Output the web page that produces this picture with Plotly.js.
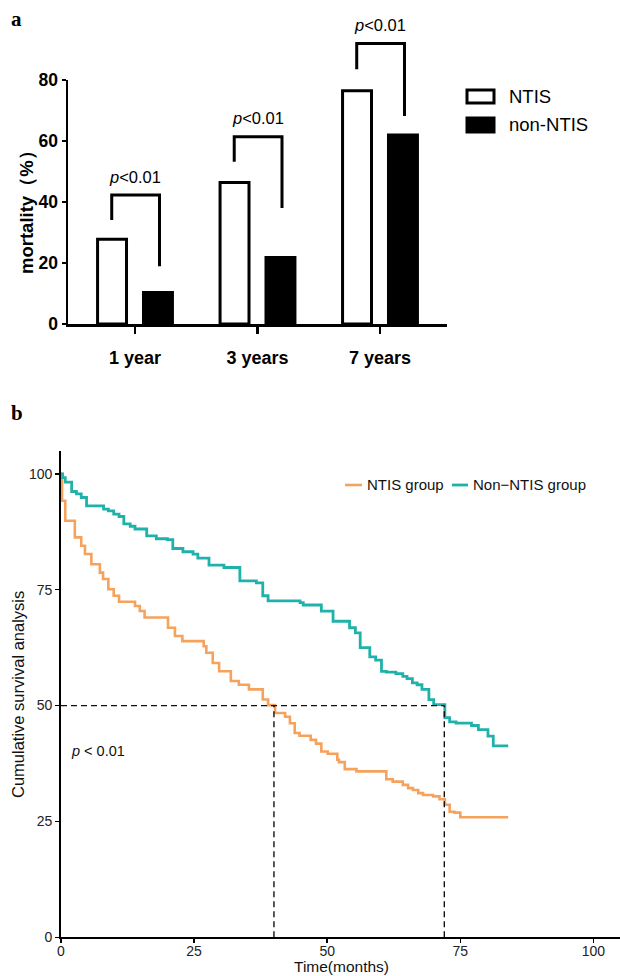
<!DOCTYPE html>
<html>
<head>
<meta charset="utf-8">
<script src="https://cdn.plot.ly/plotly-3.0.1.min.js"></script>
<style>
html,body{margin:0;padding:0;background:#fff;}
#chart{width:620px;height:976px;}
</style>
</head>
<body>
<div id="chart"></div>
<script>
// ---------- Panel a: mortality bar chart ----------
const categories = ['1 year', '3 years', '7 years'];
const ntisMortality = [27.8, 46.4, 76.5];
const nonNtisMortality = [10.3, 21.8, 62.0];
const barTickLabels = [0, 20, 40, 60, 80];
const pBarText = '<i>p</i>&lt;0.01';
const bracketTop = [42.3, 61.4, 92.0];
const bracketLeftEnd = [34.1, 53.2, 83.5];
const bracketRightEnd = [18.9, 38.0, 68.2];

// ---------- Panel b: Kaplan-Meier curves ----------
const ntisTime = [0, 0.2, 0.8, 2.6, 3.8, 4.5, 5.7, 7.3, 7.9, 8.9, 9.9, 10.9, 13.9, 14.8, 15.7,
  20.1, 21.4, 22.8, 26.8, 27.3, 28.5, 29.7, 31.9, 33.4, 35.3, 37.9, 38.9, 40.2, 42.1, 43.0,
  43.9, 44.8, 46.9, 47.9, 48.9, 50.1, 51.9, 52.2, 53.3, 55.5, 61.1, 62.3, 64.2, 65.2, 66.1,
  67.1, 68.0, 69.9, 71.1, 72.1, 73.0, 73.9, 75.0, 84.0];
const ntisSurv = [100, 94.2, 89.9, 86.3, 84.5, 82.7, 80.5, 78.7, 77.3, 75.1, 73.7, 72.4, 71.5, 70.4, 69.0,
  66.8, 65.0, 63.9, 62.8, 61.4, 59.2, 57.4, 55.3, 54.5, 53.5, 51.3, 50.1, 48.4, 47.6, 46.2,
  44.1, 43.5, 42.6, 41.8, 40.1, 39.6, 38.3, 37.8, 36.3, 35.8, 34.1, 33.6, 32.9, 32.2, 31.8,
  31.1, 30.7, 30.4, 29.8, 28.6, 27.1, 26.9, 25.9, 25.9];
const nonNtisTime = [0, 0.3, 0.8, 2.0, 2.9, 3.8, 4.8, 8.0, 8.9, 9.9, 10.9, 11.8, 13.0, 13.9, 16.1,
  17.9, 20.0, 21.0, 22.9, 24.8, 25.7, 27.8, 30.6, 33.6, 36.7, 37.9, 38.9, 44.9, 45.5, 48.9,
  51.1, 54.2, 55.3, 56.2, 58.0, 59.1, 60.2, 61.1, 62.9, 64.2, 65.0, 66.0, 66.9, 67.8, 69.1,
  70.0, 72.1, 73.0, 74.2, 77.1, 78.4, 80.2, 81.2, 84.0];
const nonNtisSurv = [100, 99.2, 98.2, 96.2, 95.7, 94.9, 93.1, 92.4, 92.0, 91.3, 90.8, 89.2, 88.7, 88.1, 86.6,
  86.0, 85.8, 83.9, 83.2, 82.7, 81.8, 80.3, 79.8, 76.9, 76.5, 73.7, 72.6, 72.2, 71.7, 70.4,
  68.2, 66.8, 65.7, 62.5, 60.5, 59.8, 57.4, 57.2, 56.9, 56.3, 55.8, 54.9, 54.5, 53.5, 51.3,
  50.2, 47.4, 46.5, 46.2, 45.7, 44.8, 43.4, 41.3, 41.3];
const medianTimes = [40, 72];
const medianLevel = 50;
const survTicks = [0, 25, 50, 75, 100];
const timeTicks = [0, 25, 50, 75, 100];

const W = 620, H = 976;
const px = v => v / W;
const py = v => 1 - v / H;
const SANS = 'Liberation Sans, Arial, Helvetica, sans-serif';
const SERIF = 'Liberation Serif, Times New Roman, serif';
const ORANGE = '#F5A25D';
const TEAL = '#20B2AA';

// bracket traces built from the bracket arrays
const LOFF = -0.19, ROFF = 0.2;
const bx = [], byv = [];
categories.forEach((c, i) => {
  bx.push(i + LOFF, i + LOFF, i + ROFF, i + ROFF, null);
  byv.push(bracketLeftEnd[i], bracketTop[i], bracketTop[i], bracketRightEnd[i], null);
});

const dashX = [0, medianTimes[1], null], dashY = [medianLevel, medianLevel, null];
medianTimes.forEach(t => { dashX.push(t, t, null); dashY.push(0, medianLevel, null); });

const traces = [
  {type: 'bar', name: 'NTIS', x: categories.map((c, i) => i), y: ntisMortality,
   xaxis: 'x', yaxis: 'y', marker: {color: '#ffffff', line: {color: '#000', width: 3}},
   hoverinfo: 'skip'},
  {type: 'bar', name: 'non-NTIS', x: categories.map((c, i) => i), y: nonNtisMortality,
   xaxis: 'x', yaxis: 'y', marker: {color: '#000000', line: {color: '#000', width: 3}},
   hoverinfo: 'skip'},
  {type: 'scatter', mode: 'lines', x: bx, y: byv, xaxis: 'x', yaxis: 'y3',
   line: {color: '#000', width: 3}, cliponaxis: false, connectgaps: false, hoverinfo: 'skip'},
  {type: 'scatter', mode: 'lines', name: 'NTIS group', x: ntisTime, y: ntisSurv,
   xaxis: 'x2', yaxis: 'y2', line: {color: ORANGE, width: 2.6, shape: 'hv'}, hoverinfo: 'skip'},
  {type: 'scatter', mode: 'lines', name: 'Non-NTIS group', x: nonNtisTime, y: nonNtisSurv,
   xaxis: 'x2', yaxis: 'y2', line: {color: TEAL, width: 2.8, shape: 'hv'}, hoverinfo: 'skip'},
  {type: 'scatter', mode: 'lines', x: dashX, y: dashY, xaxis: 'x2', yaxis: 'y2',
   line: {color: '#111', width: 1.4, dash: '6px,4px'}, connectgaps: false, hoverinfo: 'skip'}
];

const annotations = [
  {text: '<b>a</b>', xref: 'paper', yref: 'paper', x: px(9), y: py(19), xanchor: 'left', yanchor: 'middle',
   showarrow: false, font: {family: SERIF, size: 21, color: '#000'}},
  {text: '<b>b</b>', xref: 'paper', yref: 'paper', x: px(9), y: py(413), xanchor: 'left', yanchor: 'middle',
   showarrow: false, font: {family: SERIF, size: 21, color: '#000'}},
  {text: '<b>mortality（%）</b>', xref: 'paper', yref: 'paper', x: px(26), y: py(208), textangle: -90,
   xanchor: 'center', yanchor: 'middle', showarrow: false, font: {family: SANS, size: 18.5, color: '#000'}},
  {text: 'NTIS', xref: 'paper', yref: 'paper', x: px(507), y: py(96), xanchor: 'left', yanchor: 'middle',
   showarrow: false, font: {family: SANS, size: 18.5, color: '#000'}},
  {text: 'non-NTIS', xref: 'paper', yref: 'paper', x: px(507), y: py(125), xanchor: 'left', yanchor: 'middle',
   showarrow: false, font: {family: SANS, size: 18.5, color: '#000'}},
  {text: 'NTIS group', xref: 'paper', yref: 'paper', x: px(365), y: py(485), xanchor: 'left', yanchor: 'middle',
   showarrow: false, font: {family: SANS, size: 15, color: '#111'}},
  {text: 'Non−NTIS group', xref: 'paper', yref: 'paper', x: px(471), y: py(485), xanchor: 'left', yanchor: 'middle',
   showarrow: false, font: {family: SANS, size: 15, color: '#111'}},
  {text: 'Cumulative survival analysis', xref: 'paper', yref: 'paper', x: px(18), y: py(695), textangle: -90,
   xanchor: 'center', yanchor: 'middle', showarrow: false, font: {family: SANS, size: 16.5, color: '#111'}},
  {text: 'Time(months)', xref: 'paper', yref: 'paper', x: px(341), y: py(975.5), xanchor: 'center', yanchor: 'bottom',
   showarrow: false, borderpad: 0, font: {family: SANS, size: 15.5, color: '#111'}},
  {text: '<i>p</i> &lt; 0.01', xref: 'x2', yref: 'y2', x: 1.5, y: 40.1, xanchor: 'left', yanchor: 'middle',
   showarrow: false, font: {family: SANS, size: 14.5, color: '#111'}}
];
categories.forEach((c, i) => {
  annotations.push({text: pBarText, xref: 'x', yref: 'y3', x: i, y: bracketTop[i] + 6,
    xanchor: 'center', yanchor: 'middle', showarrow: false,
    font: {family: SANS, size: 16.5, color: '#000'}});
});

const shapes = [
  {type: 'rect', xref: 'paper', yref: 'paper', x0: px(467), x1: px(494), y0: py(103), y1: py(90),
   line: {color: '#000', width: 3}, fillcolor: '#fff'},
  {type: 'rect', xref: 'paper', yref: 'paper', x0: px(467), x1: px(494), y0: py(132), y1: py(118),
   line: {color: '#000', width: 3}, fillcolor: '#000'},
  {type: 'line', xref: 'paper', yref: 'paper', x0: px(345), x1: px(362), y0: py(485), y1: py(485),
   line: {color: ORANGE, width: 2.6}},
  {type: 'line', xref: 'paper', yref: 'paper', x0: px(452), x1: px(468), y0: py(485), y1: py(485),
   line: {color: TEAL, width: 2.8}}
];

// y3: same scale as y (px per %), extended upward so brackets above 80 are not clipped
const Y0PX = 324, PXPER = (324 - 80) / 80;

const layout = {
  width: W, height: H,
  margin: {l: 0, r: 0, t: 0, b: 0},
  paper_bgcolor: '#fff', plot_bgcolor: 'rgba(0,0,0,0)',
  showlegend: false,
  barmode: 'group', bargap: 0.25, bargroupgap: 0.37,
  font: {family: SANS, color: '#000'},
  xaxis: {domain: [px(68), px(447)], range: [-0.547, 2.547], anchor: 'y',
    tickmode: 'array', tickvals: categories.map((c, i) => i), ticktext: categories,
    showline: true, linecolor: '#000', linewidth: 2.5, ticks: 'outside', ticklen: 7, tickwidth: 2.5,
    tickcolor: '#000', showgrid: false, zeroline: false, ticklabelstandoff: 9,
    tickfont: {family: SANS, size: 18, weight: 'bold', color: '#000'}, fixedrange: true},
  yaxis: {domain: [py(324), py(80)], range: [0, 80], anchor: 'x',
    tickmode: 'array', tickvals: barTickLabels,
    showline: true, linecolor: '#000', linewidth: 2.5, ticks: 'outside', ticklen: 4, tickwidth: 2.5,
    tickcolor: '#000', showgrid: false, zeroline: false,
    tickfont: {family: SANS, size: 17.5, weight: 'bold', color: '#000'}, fixedrange: true},
  yaxis3: {domain: [py(Y0PX), py(Y0PX - 100 * PXPER)], range: [0, 100], anchor: 'x',
    visible: false, showgrid: false, zeroline: false, fixedrange: true},
  xaxis2: {domain: [px(61), 1], range: [0, 105], anchor: 'y2',
    tickmode: 'array', tickvals: timeTicks,
    showline: true, linecolor: '#000', linewidth: 1.8, ticks: 'outside', ticklen: 4, tickwidth: 1.5,
    tickcolor: '#000', showgrid: false, zeroline: false, ticklabelstandoff: -4,
    tickfont: {family: SANS, size: 14, color: '#222'}, fixedrange: true},
  yaxis2: {domain: [py(937.3), py(450.7)], range: [0, 105], anchor: 'x2',
    tickmode: 'array', tickvals: survTicks,
    showline: true, linecolor: '#000', linewidth: 1.8, ticks: 'outside', ticklen: 4, tickwidth: 1.5,
    tickcolor: '#000', showgrid: false, zeroline: false,
    tickfont: {family: SANS, size: 14, color: '#222'}, fixedrange: true},
  annotations: annotations,
  shapes: shapes
};

Plotly.newPlot('chart', traces, layout, {staticPlot: true, displayModeBar: false});
</script>
</body>
</html>
